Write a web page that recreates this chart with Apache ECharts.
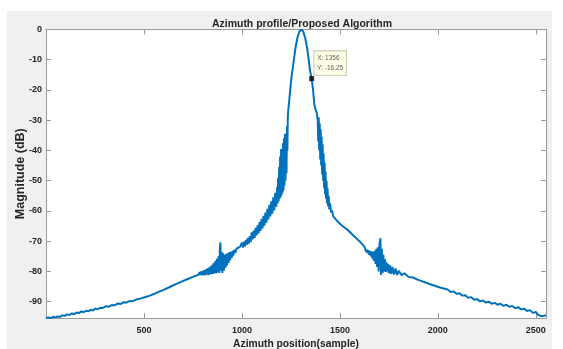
<!DOCTYPE html>
<html>
<head>
<meta charset="utf-8">
<script src="https://cdn.jsdelivr.net/npm/echarts@6/dist/echarts.min.js"></script>
<style>
  html, body { margin: 0; padding: 0; background: #ffffff; }
  #wrap { position: relative; width: 563px; height: 349px; overflow: hidden; }
  #fig { position: absolute; left: 7px; top: 11px; width: 545px; height: 338px; background: #f0f0f0; }
  #chart { position: absolute; left: 0; top: 0; width: 563px; height: 349px; }
</style>
</head>
<body>
<div id="wrap"><div id="fig"></div><div id="chart"></div></div>
<script>
// ---- data (sample index, magnitude dB) ----
const leftTail = [
  [1,-95.4],[12,-95.2],[24,-95.5],[36,-95.0],[48,-95.2],[60,-94.9],[72,-95.0],[84,-94.5],[96,-94.7],
  [108,-94.2],[120,-94.4],[132,-93.9],[144,-94.1],[156,-93.6],[168,-93.8],[180,-93.2],[192,-93.5],
  [204,-93.0],[216,-93.2],[228,-92.7],[240,-92.9],[252,-92.3],[264,-92.5],[276,-92.0],[290,-92.1],
  [305,-91.5],[320,-91.7],[335,-91.1],[350,-91.2],[365,-90.6],[380,-90.8],[395,-90.2],[410,-90.3],
  [425,-89.8],[440,-89.9],[460,-89.3],[480,-89.0],[500,-88.6],[530,-88.0],[560,-87.2],[600,-86.1],
  [640,-84.9],[680,-83.7],[720,-82.6],[750,-81.8],[780,-81.0]
];
const leftBump = [
  [784,-80.2],[788,-81.2],[792,-80.0],[796,-81.3],[800,-79.8],[804,-81.2],[808,-79.6],[812,-81.3],
  [816,-79.3],[820,-81.0],[824,-79.0],[828,-81.2],[832,-78.7],[836,-81.0],[840,-78.3],[844,-80.9],
  [848,-77.8],[852,-80.8],[856,-77.2],[860,-80.6],[864,-76.6],[868,-80.7],[872,-75.8],[876,-80.3],
  [880,-75.0],[884,-80.5],[887,-73.0],[890,-70.4],[893,-79.8],[896,-73.5],[900,-80.5],[904,-74.0],
  [908,-79.8],[912,-74.5],[916,-78.8],[920,-74.2],[924,-78.0],[928,-74.0],[932,-77.2],[936,-73.6],
  [940,-76.3],[944,-73.5],[948,-75.5],[952,-73.2],[956,-74.8],[960,-72.9],[966,-73.9],[972,-72.5],
  [980,-73.0],[990,-71.9],[995,-72.3]
];
const leftShoulder = [
  [1000,-70.5],[1005,-72.1],[1010,-70.2],[1015,-71.8],[1020,-69.6],[1025,-71.2],[1030,-68.9],
  [1035,-70.8],[1040,-68.3],[1045,-70.2],[1050,-67.1],[1055,-69.4],[1060,-66.5],[1065,-68.9],
  [1070,-65.6],[1075,-68.1],[1080,-64.8],[1085,-67.4],[1090,-63.7],[1095,-66.6],[1100,-62.6],
  [1105,-65.8],[1110,-61.6],[1115,-64.9],[1120,-60.5],[1125,-63.9],[1130,-59.3],[1135,-62.8],
  [1140,-58.0],[1145,-61.8],[1150,-56.8],[1155,-60.9],[1160,-55.5],[1165,-59.8],[1170,-54.0],
  [1175,-58.6],[1180,-52.0],[1182.5,-57.5],[1185,-49.0],[1187.5,-56.8],[1190,-45.5],[1192.5,-56.0],
  [1195,-42.0],[1197.5,-55.5],[1200,-39.5],[1202.5,-54.8],[1205,-41.0],[1207.5,-54.0],[1210,-37.5],
  [1212.5,-53.2],[1215,-36.0],[1217.5,-51.5],[1220,-34.5],[1222.5,-50.0],[1225,-35.5],[1227.5,-47.5],
  [1230,-32.0],[1232,-40.0],[1234,-29.5],[1236,-27.0]
];
const mainLobe = [
  [1240,-24.5],[1245,-21.0],[1250,-17.5],[1255,-14.8],[1258,-13.4],[1263,-11.0],[1273,-6.2],
  [1283,-2.8],[1293,-0.7],[1303,0],[1313,-0.7],[1323,-2.8],[1333,-6.2],[1343,-11.0],[1347,-13.4],
  [1356,-16.25],[1363,-20.0],[1370,-25.0],[1376,-26.5],[1382,-27.5]
];
const rightShoulder = [
  [1387,-30],[1389.5,-37],[1392,-29],[1394.5,-40],[1397,-31],[1399.5,-43],[1402,-33],[1404.5,-45],
  [1407,-35.5],[1409.5,-48],[1412,-38],[1414.5,-50],[1417,-41],[1419.5,-52.5],[1422,-44],[1424.5,-54.5],
  [1427,-47],[1429.5,-56],[1432,-50],[1434.5,-57.5],[1437,-52.5],[1440,-58.5],[1443,-55],[1446,-59.5],
  [1450,-57.5],[1455,-60.5],[1460,-59.8],[1466,-61.8],[1475,-62.3],[1490,-63.6],[1510,-64.8],
  [1540,-66.3],[1570,-68.2],[1600,-70.0],[1625,-71.8]
];
const rightBump = [
  [1630,-72.6],[1634,-73.6],[1638,-72.8],[1642,-74.0],[1646,-73.0],[1650,-74.5],[1654,-73.2],
  [1658,-75.0],[1662,-73.4],[1666,-75.8],[1670,-73.5],[1674,-76.5],[1678,-73.2],[1682,-77.5],
  [1686,-72.5],[1690,-78.5],[1694,-72.0],[1698,-80.0],[1702,-71.0],[1707,-69.0],[1710,-81.2],
  [1714,-72.5],[1718,-80.5],[1722,-74.5],[1726,-80.0],[1730,-76.0],[1734,-80.2],[1738,-77.0],
  [1742,-80.0],[1746,-77.5],[1750,-80.6],[1756,-78.0],[1762,-80.8],[1768,-78.5],[1776,-81.0],
  [1784,-79.0],[1792,-81.2],[1800,-79.8],[1815,-81.2],[1830,-80.6],[1850,-81.8],[1872,-82.0],
  [1900,-82.8],[1950,-84.0],[2010,-85.3]
];
const rightTail = [
  [2050,-86.0],[2065,-86.8],[2080,-86.6],[2095,-87.4],[2110,-87.2],[2125,-88.0],[2140,-87.9],
  [2155,-88.7],[2170,-88.5],[2185,-89.4],[2200,-89.1],[2215,-89.9],[2230,-89.6],[2245,-90.3],
  [2260,-90.0],[2275,-90.7],[2290,-90.4],[2305,-91.0],[2320,-90.7],[2335,-91.4],[2350,-91.0],
  [2365,-91.7],[2380,-91.4],[2395,-92.2],[2410,-91.8],[2425,-92.6],[2440,-92.3],[2455,-93.1],
  [2470,-92.8],[2485,-93.7],[2500,-93.4],[2512,-94.4],[2522,-94.2],[2532,-94.8],[2540,-94.6],
  [2552,-94.5]
];
const dataTip = [1356, -16.25];
const xTicks = [500, 1000, 1500, 2000, 2500];
const yTicks = [0, -10, -20, -30, -40, -50, -60, -70, -80, -90];
const titleText = 'Azimuth profile/Proposed Algorithm';
const xName = 'Azimuth position(sample)';
const yName = 'Magnitude (dB)';

const profile = [].concat(leftTail, leftBump, leftShoulder, mainLobe, rightShoulder, rightBump, rightTail);

const axisGrey = '#9a9a9a';
const labelColor = '#262626';
const FONT = 'Liberation Sans, Arial, Helvetica, sans-serif';
const X_MIN = 0, X_MAX = 2552, Y_MIN = -95.4, Y_MAX = 0;

function xAxisCfg(pos, withLabels) {
  return {
    type: 'value', position: pos, min: X_MIN, max: X_MAX,
    axisLine: { show: true, onZero: false, lineStyle: { color: axisGrey, width: 1 } },
    axisTick: { show: true, inside: true, length: 5, customValues: xTicks, lineStyle: { color: axisGrey } },
    axisLabel: { show: withLabels, customValues: xTicks, color: labelColor, fontSize: 9, fontWeight: 'bold',
                 fontFamily: FONT, margin: 8,
                 formatter: function (v) { return String(v); } },
    splitLine: { show: false },
    name: withLabels ? xName : '', nameLocation: 'middle', nameGap: 21, nameMoveOverlap: false,
    nameTextStyle: { color: labelColor, fontSize: 10.3, fontWeight: 'bold', fontFamily: FONT }
  };
}
function yAxisCfg(pos, withLabels) {
  return {
    type: 'value', position: pos, min: Y_MIN, max: Y_MAX,
    axisLine: { show: true, onZero: false, lineStyle: { color: axisGrey, width: 1 } },
    axisTick: { show: true, inside: true, length: 5, customValues: yTicks, lineStyle: { color: axisGrey } },
    axisLabel: { show: withLabels, customValues: yTicks, color: labelColor, fontSize: 9, fontWeight: 'bold',
                 fontFamily: FONT, margin: 4 },
    splitLine: { show: false },
    name: withLabels ? yName : '', nameLocation: 'middle', nameGap: 19, nameMoveOverlap: false,
    nameTextStyle: { color: labelColor, fontSize: 12.5, fontWeight: 'bold', fontFamily: FONT }
  };
}

const chart = echarts.init(document.getElementById('chart'), null, { renderer: 'canvas' });
chart.setOption({
  backgroundColor: 'transparent',
  animation: false,
  title: {
    text: titleText, left: 297, top: 14, textAlign: 'center',
    textStyle: { color: labelColor, fontSize: 10.5, fontWeight: 'bold', fontFamily: FONT }
  },
  grid: { left: 46, right: 17, top: 29.5, bottom: 31, show: true, backgroundColor: '#ffffff', borderWidth: 0,
          containLabel: false, outerBoundsMode: 'none' },
  xAxis: [xAxisCfg('bottom', true), xAxisCfg('top', false)],
  yAxis: [yAxisCfg('left', true), yAxisCfg('right', false)],
  series: [
    {
      type: 'line', data: profile, xAxisIndex: 0, yAxisIndex: 0,
      showSymbol: false, symbol: 'none',
      lineStyle: { color: '#0072BD', width: 2 }, clip: true
    },
    {
      type: 'scatter', data: [dataTip], symbol: 'rect', symbolSize: 5,
      itemStyle: { color: '#000000' },
      label: {
        show: true, position: [5, -25],
        formatter: function (p) { return 'X: ' + p.value[0] + '\nY: ' + p.value[1].toFixed(2); },
        color: '#333333', fontSize: 6.5, lineHeight: 10, fontFamily: FONT,
        backgroundColor: '#ffffe1', borderColor: '#b8b8a0', borderWidth: 0.8,
        padding: [2, 3, 2, 3], align: 'left', verticalAlign: 'top'
      },
      z: 5
    }
  ]
});
</script>
</body>
</html>
